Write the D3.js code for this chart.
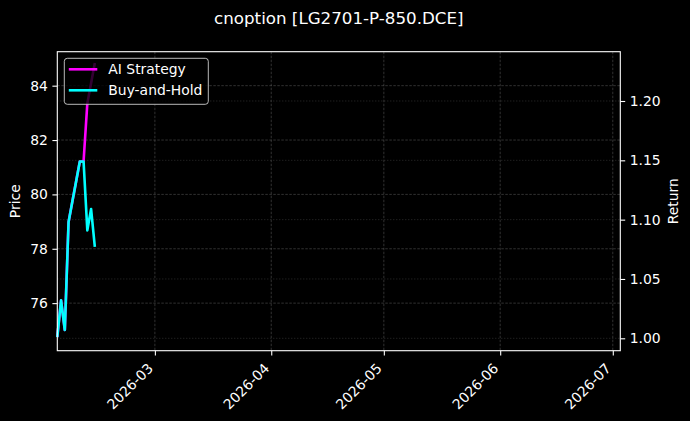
<!DOCTYPE html>
<html>
<head>
<meta charset="utf-8">
<script src="https://cdn.jsdelivr.net/npm/d3@7"></script>
<style>
  html, body { margin: 0; padding: 0; background: #000; }
  svg { display: block; }
  text { font-family: "DejaVu Sans", sans-serif; fill: #fff; }
</style>
</head>
<body>
<script>
// data (daily, from 2026-02-03)
const dates = ["2026-02-03","2026-02-04","2026-02-05","2026-02-06","2026-02-07","2026-02-08",
               "2026-02-09","2026-02-10","2026-02-11","2026-02-12","2026-02-13"];
const aiStrategy  = [1.001, 1.032, 1.007, 1.098, 1.115, 1.132, 1.149, 1.149, 1.198, 1.215, 1.232];
const buyAndHold  = [1.001, 1.032, 1.007, 1.098, 1.115, 1.132, 1.149, 1.149, 1.091, 1.109, 1.077];
const priceTicks  = [76, 78, 80, 82, 84];
const returnTicks = [1.00, 1.05, 1.10, 1.15, 1.20];
const monthTicks  = ["2026-03-01","2026-04-01","2026-05-01","2026-06-01","2026-07-01"];

const width = 690, height = 421,
      margin = {left: 57.3, right: 690 - 620.3, top: 51.7, bottom: 421 - 350.7},
      parse = d3.timeParse("%Y-%m-%d");

const svg = d3.select("body").append("svg")
              .attr("width", width)
              .attr("height", height);

svg.append("rect").attr("width", width).attr("height", height).attr("fill", "#000");

const x = d3.scaleTime()
            .domain([parse("2026-02-03"), parse("2026-07-03")])
            .range([margin.left, width - margin.right]);
const yPrice = d3.scaleLinear()
                 .domain([74.25, 85.25])
                 .range([height - margin.bottom, margin.top]);
const yRet = d3.scaleLinear()
               .domain([0.98955, 1.24155])
               .range([height - margin.bottom, margin.top]);

const x0 = margin.left, x1 = width - margin.right,
      y0 = margin.top, y1 = height - margin.bottom;

// grids: price + date dashed, return dotted
const grid = svg.append("g").attr("class", "grid");
grid.selectAll(".gx").data(monthTicks).join("line")
    .attr("x1", d => x(parse(d))).attr("x2", d => x(parse(d)))
    .attr("y1", y0).attr("y2", y1)
    .attr("stroke", "#808080").attr("stroke-opacity", 0.55)
    .attr("stroke-width", 0.7).attr("stroke-dasharray", "2.5,1.5");
grid.selectAll(".gp").data(priceTicks).join("line")
    .attr("x1", x0).attr("x2", x1)
    .attr("y1", d => yPrice(d)).attr("y2", d => yPrice(d))
    .attr("stroke", "#808080").attr("stroke-opacity", 0.55)
    .attr("stroke-width", 0.7).attr("stroke-dasharray", "2.5,1.5");
grid.selectAll(".gr").data(returnTicks).join("line")
    .attr("x1", x0).attr("x2", x1)
    .attr("y1", d => yRet(d)).attr("y2", d => yRet(d))
    .attr("stroke", "#808080").attr("stroke-opacity", 0.5)
    .attr("stroke-width", 0.7).attr("stroke-dasharray", "1,2");

// lines
const line = d3.line()
               .x((d, i) => x(parse(dates[i])))
               .y(d => yRet(d));

svg.append("path")
   .attr("fill", "none").attr("stroke", "#ff00ff").attr("stroke-width", 2.6)
   .attr("stroke-linejoin", "round")
   .attr("d", line(aiStrategy));
svg.append("path")
   .attr("fill", "none").attr("stroke", "#00ffff").attr("stroke-width", 2.6)
   .attr("stroke-linejoin", "round")
   .attr("d", line(buyAndHold));

// axes
const styleAxis = g => {
  g.select(".domain").remove();
  g.selectAll(".tick line").attr("stroke", "#fff").attr("stroke-width", 1.1);
  g.selectAll(".tick text").attr("fill", "#fff").style("font-size", "13.9px")
   .style("font-family", "DejaVu Sans");
};

svg.append("g")
   .attr("transform", `translate(${x0},0)`)
   .call(d3.axisLeft(yPrice).tickValues(priceTicks).tickSize(4.9).tickPadding(4.5))
   .call(styleAxis);

svg.append("g")
   .attr("transform", `translate(${x1},0)`)
   .call(d3.axisRight(yRet).tickValues(returnTicks).tickSize(4.9).tickPadding(4.5)
           .tickFormat(d3.format(".2f")))
   .call(styleAxis);

const xAxis = svg.append("g")
   .attr("transform", `translate(0,${y1})`)
   .call(d3.axisBottom(x).tickValues(monthTicks.map(parse)).tickSize(4.9)
           .tickFormat(d3.timeFormat("%Y-%m")))
   .call(styleAxis);
xAxis.selectAll(".tick text")
     .attr("text-anchor", "end")
     .attr("dy", null).attr("y", null)
     .attr("dominant-baseline", "central")
     .attr("transform", "translate(-5,15) rotate(-45)");

// frame
svg.append("rect")
   .attr("x", x0).attr("y", y0).attr("width", x1 - x0).attr("height", y1 - y0)
   .attr("fill", "none").attr("stroke", "#fff").attr("stroke-width", 1.1);

// labels
svg.append("text")
   .attr("x", (x0 + x1) / 2).attr("y", 24)
   .attr("text-anchor", "middle").style("font-size", "16.7px")
   .text("cnoption [LG2701-P-850.DCE]");
svg.append("text")
   .attr("transform", `translate(20,${(y0 + y1) / 2}) rotate(-90)`)
   .attr("text-anchor", "middle").style("font-size", "13.9px")
   .text("Price");
svg.append("text")
   .attr("transform", `translate(678,${(y0 + y1) / 2}) rotate(-90)`)
   .attr("text-anchor", "middle").style("font-size", "13.9px")
   .text("Return");

// legend
const legend = svg.append("g").attr("transform", "translate(64.3,58.3)");
legend.append("rect")
      .attr("width", 144).attr("height", 46).attr("rx", 3)
      .attr("fill", "#000").attr("fill-opacity", 0.8)
      .attr("stroke", "#ccc").attr("stroke-opacity", 0.9).attr("stroke-width", 1);
const items = [{label: "AI Strategy", color: "#ff00ff"}, {label: "Buy-and-Hold", color: "#00ffff"}];
items.forEach((it, i) => {
  const yy = 11 + i * 21;
  legend.append("line")
        .attr("x1", 4.5).attr("x2", 33).attr("y1", yy).attr("y2", yy)
        .attr("stroke", it.color).attr("stroke-width", 2.6);
  legend.append("text")
        .attr("x", 44).attr("y", yy).attr("dy", "0.36em")
        .style("font-size", "13.9px")
        .text(it.label);
});
</script>
</body>
</html>
